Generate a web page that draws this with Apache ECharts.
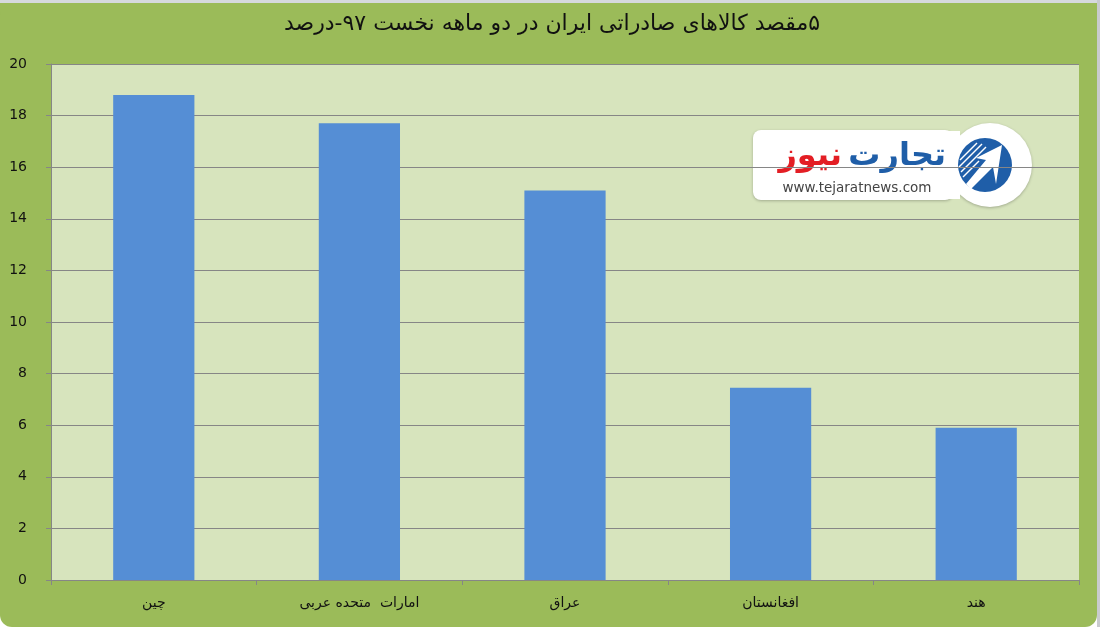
<!DOCTYPE html>
<html><head><meta charset="utf-8">
<script src="https://cdn.jsdelivr.net/npm/echarts@6/dist/echarts.min.js"></script>
<style>html,body{margin:0;padding:0;background:#fff;}#c{width:1100px;height:627px;}</style>
</head><body><div id="c"></div>
<script>
const categories = ['چین', 'امارات  متحده عربی', 'عراق', 'افغانستان', 'هند'];
const values = [18.8, 17.7, 15.1, 7.45, 5.9];
const titleText = '\u202B۵مقصد کالاهای صادراتی ایران در دو ماهه نخست ۹۷-درصد\u202C';

const chart = echarts.init(document.getElementById('c'), null, {renderer: 'canvas'});
const FONT = 'DejaVu Sans';
chart.setOption({
  animation: false,
  backgroundColor: '#ffffff',
  title: {
    text: titleText, left: 547, top: 8, textAlign: 'center',
    textStyle: {fontFamily: FONT, fontSize: 22, fontWeight: 'normal', color: '#111'}
  },
  grid: {left: 51, right: 21, top: 64, bottom: 47},
  xAxis: {
    type: 'category', data: categories,
    axisLine: {lineStyle: {color: '#868686', width: 1}},
    axisTick: {show: true, length: 5, alignWithLabel: false, lineStyle: {color: '#868686'}},
    axisLabel: {fontFamily: FONT, fontSize: 14, color: '#111', margin: 16}
  },
  yAxis: {
    type: 'value', min: 0, max: 20, interval: 2,
    axisLine: {show: true, lineStyle: {color: '#868686', width: 1}},
    axisTick: {show: true, length: 5, lineStyle: {color: '#868686'}},
    splitLine: {lineStyle: {color: '#868686', width: 1}},
    axisLabel: {fontFamily: FONT, fontSize: 14, color: '#111', margin: 24}
  },
  series: [{
    type: 'bar', data: values, barWidth: '39.5%',
    itemStyle: {color: '#558ED5'}, z: 3
  }],
  graphic: [
    {type: 'rect', z: -10, silent: true, shape: {x: 0, y: 0, width: 1100, height: 3}, style: {fill: '#d6d9de'}},
    {type: 'rect', z: -10, silent: true, shape: {x: 1097, y: 0, width: 3, height: 627}, style: {fill: '#c9cbce'}},
    {type: 'rect', z: -9, silent: true, shape: {x: 0, y: 3, width: 1097, height: 600}, style: {fill: '#9BBB59'}},
    {type: 'rect', z: -9, silent: true, shape: {x: 0, y: 3, width: 1097, height: 624, r: 12}, style: {fill: '#9BBB59'}},
    {type: 'rect', z: -8, silent: true, shape: {x: 51, y: 64, width: 1028, height: 516}, style: {fill: '#D7E4BD'}},
    // logo
    {type: 'group', z: 100, children: [
      {type: 'rect', shape: {x: 753, y: 130, width: 200, height: 70, r: 8}, style: {fill: '#fff', shadowBlur: 3, shadowColor: 'rgba(0,0,0,0.25)', shadowOffsetY: 1}},
      {type: 'circle', shape: {cx: 990, cy: 165, r: 42}, style: {fill: '#fff', shadowBlur: 3, shadowColor: 'rgba(0,0,0,0.25)', shadowOffsetY: 1}},
      {type: 'rect', shape: {x: 940, y: 131, width: 20, height: 68}, style: {fill: '#fff'}},
      {type: 'circle', shape: {cx: 985, cy: 165, r: 27}, style: {fill: '#1f5ea8'}},
      {type: 'line', shape: {x1: 960, y1: 160, x2: 977, y2: 143}, style: {stroke: '#fff', lineWidth: 1.5}},
      {type: 'line', shape: {x1: 959, y1: 167, x2: 982, y2: 144}, style: {stroke: '#fff', lineWidth: 1.5}},
      {type: 'line', shape: {x1: 961, y1: 172, x2: 986, y2: 147}, style: {stroke: '#fff', lineWidth: 1.5}},
      {type: 'line', shape: {x1: 963, y1: 177, x2: 979, y2: 161}, style: {stroke: '#fff', lineWidth: 1.5}},
      {type: 'polygon', shape: {points: [[1002, 145], [976, 158], [986, 160], [966, 184], [971, 189], [993, 167], [996, 184]]}, style: {fill: '#fff'}},
      {type: 'text', style: {text: 'تجارت', x: 946, y: 157, align: 'right', verticalAlign: 'middle', fill: '#1f5ea8', font: 'bold 32px "DejaVu Sans"'}},
      {type: 'text', style: {text: 'نیوز', x: 842, y: 157, align: 'right', verticalAlign: 'middle', fill: '#e31e24', font: 'bold 32px "DejaVu Sans"'}},
      {type: 'text', style: {text: 'www.tejaratnews.com', x: 857, y: 188, align: 'center', verticalAlign: 'middle', fill: '#444', font: '13.5px "DejaVu Sans"'}}
    ]}
  ]
});
</script></body></html>
